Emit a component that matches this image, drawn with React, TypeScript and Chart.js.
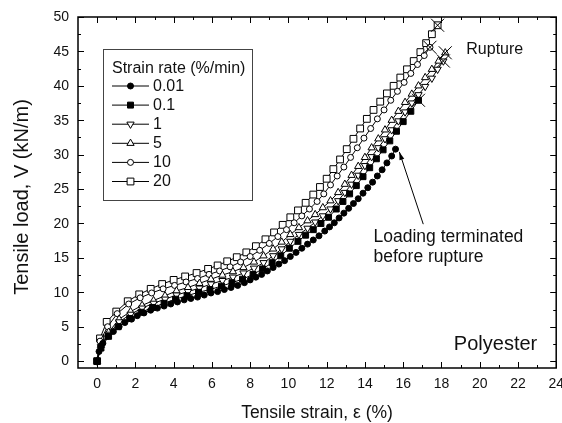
import { useEffect, useRef } from "react";
import { Chart, registerables } from "chart.js";
import { drawPoint } from "chart.js/helpers";

Chart.register(...registerables);

// Tensile strain (%) and tensile load (kN/m) for each strain rate (%/min)
const strain001 = [0, 0.1, 0.3, 0.55, 0.85, 1.15, 1.45, 1.8, 2.1, 2.45, 2.8, 3.15, 3.5, 3.85, 4.2, 4.55, 4.9, 5.25, 5.6, 5.95, 6.3, 6.65, 7.0, 7.35, 7.7, 8.0, 8.3, 8.6, 8.9, 9.2, 9.5, 9.8, 10.1, 10.4, 10.7, 11.0, 11.3, 11.6, 11.9, 12.15, 12.4, 12.65, 12.9, 13.15, 13.4, 13.65, 13.9, 14.15, 14.4, 14.65, 14.9, 15.15, 15.4, 15.6];
const load001 = [0, 1.4, 2.6, 3.6, 4.3, 5.0, 5.6, 6.1, 6.6, 7.0, 7.4, 7.7, 8.0, 8.3, 8.6, 8.9, 9.1, 9.3, 9.6, 9.9, 10.1, 10.4, 10.7, 11.0, 11.4, 11.8, 12.2, 12.6, 13.1, 13.6, 14.1, 14.6, 15.2, 15.8, 16.4, 17.0, 17.6, 18.2, 18.9, 19.5, 20.1, 20.8, 21.5, 22.2, 22.9, 23.6, 24.4, 25.2, 26.0, 26.9, 27.8, 28.8, 29.8, 30.8];

const strain01 = [0, 0.2, 0.6, 1.1, 1.7, 2.3, 2.9, 3.5, 4.1, 4.7, 5.3, 5.9, 6.5, 7.05, 7.6, 8.15, 8.65, 9.15, 9.6, 10.05, 10.5, 10.9, 11.3, 11.7, 12.1, 12.5, 12.85, 13.2, 13.55, 13.9, 14.25, 14.6, 14.95, 15.3, 15.65, 16.0, 16.4, 16.8];
const load01 = [0, 1.9, 3.6, 5.0, 6.2, 7.1, 7.8, 8.4, 9.0, 9.5, 10.0, 10.4, 10.9, 11.4, 11.9, 12.6, 13.4, 14.3, 15.3, 16.4, 17.4, 18.3, 19.1, 20.0, 20.9, 22.1, 23.2, 24.3, 25.5, 26.8, 28.1, 29.4, 30.7, 32.0, 33.4, 34.8, 36.3, 37.9];

const strain1 = [0, 0.2, 0.6, 1.15, 1.75, 2.35, 2.95, 3.55, 4.15, 4.75, 5.35, 5.95, 6.55, 7.1, 7.65, 8.2, 8.7, 9.2, 9.65, 10.1, 10.55, 11.0, 11.4, 11.8, 12.2, 12.6, 12.95, 13.3, 13.65, 14.0, 14.35, 14.7, 15.05, 15.4, 15.75, 16.1, 16.45, 16.8, 17.15, 17.5, 17.8, 18.1];
const load1 = [0, 2.1, 3.9, 5.7, 6.8, 7.7, 8.4, 9.0, 9.6, 10.1, 10.6, 11.2, 11.7, 12.2, 12.8, 13.5, 14.3, 15.3, 16.3, 17.4, 18.4, 19.3, 20.2, 21.1, 22.1, 23.3, 24.5, 25.7, 27.0, 28.4, 29.7, 31.0, 32.3, 33.6, 34.9, 36.2, 37.5, 38.7, 39.9, 41.1, 42.4, 43.6];

const strain5 = [0, 0.2, 0.6, 1.15, 1.75, 2.35, 2.95, 3.55, 4.15, 4.75, 5.35, 5.95, 6.55, 7.1, 7.65, 8.2, 8.7, 9.2, 9.65, 10.1, 10.55, 11.0, 11.4, 11.8, 12.2, 12.6, 12.95, 13.3, 13.65, 14.0, 14.35, 14.7, 15.05, 15.4, 15.75, 16.1, 16.45, 16.8, 17.15, 17.5, 17.85, 18.2];
const load5 = [0, 2.3, 4.2, 6.1, 7.2, 8.1, 8.8, 9.5, 10.2, 10.7, 11.3, 11.9, 12.5, 13.0, 13.6, 14.4, 15.3, 16.3, 17.3, 18.4, 19.4, 20.4, 21.3, 22.3, 23.3, 24.5, 25.7, 27.0, 28.3, 29.6, 31.0, 32.3, 33.6, 35.0, 36.3, 37.6, 38.8, 40.0, 41.2, 42.4, 43.6, 44.8];

const strain10 = [0, 0.15, 0.55, 1.05, 1.65, 2.25, 2.85, 3.45, 4.05, 4.65, 5.25, 5.85, 6.4, 6.95, 7.5, 8.0, 8.5, 9.0, 9.45, 9.9, 10.3, 10.7, 11.1, 11.5, 11.85, 12.2, 12.55, 12.9, 13.25, 13.6, 13.95, 14.3, 14.65, 15.0, 15.35, 15.7, 16.05, 16.4, 16.75, 17.1, 17.4];
const load10 = [0, 2.9, 5.0, 6.9, 8.3, 9.2, 9.9, 10.5, 11.0, 11.5, 12.0, 12.6, 13.1, 13.7, 14.4, 15.2, 16.1, 17.1, 18.1, 19.1, 20.1, 21.1, 22.1, 23.2, 24.3, 25.6, 26.9, 28.2, 29.6, 31.0, 32.4, 33.8, 35.2, 36.5, 37.9, 39.2, 40.5, 41.8, 43.1, 44.4, 45.6];

const strain20 = [0, 0.15, 0.5, 1.0, 1.6, 2.2, 2.8, 3.4, 4.0, 4.6, 5.2, 5.8, 6.3, 6.8, 7.3, 7.8, 8.3, 8.8, 9.25, 9.7, 10.1, 10.5, 10.9, 11.3, 11.65, 12.0, 12.35, 12.7, 13.05, 13.4, 13.75, 14.1, 14.45, 14.8, 15.15, 15.5, 15.85, 16.2, 16.55, 16.9, 17.2, 17.5, 17.8];
const load20 = [0, 3.3, 5.7, 7.2, 8.7, 9.7, 10.5, 11.2, 11.8, 12.3, 12.8, 13.4, 13.9, 14.5, 15.1, 15.8, 16.7, 17.7, 18.7, 19.8, 20.9, 21.9, 23.0, 24.2, 25.3, 26.5, 27.9, 29.3, 30.8, 32.3, 33.8, 35.2, 36.5, 37.7, 38.9, 40.0, 41.2, 42.4, 43.6, 44.9, 46.2, 47.5, 48.8];

const rateLabels = ["0.01", "0.1", "1", "5", "10", "20"];
// which strain rates ended in rupture (0.01 %/min was stopped early)
const ruptured = [false, true, true, true, true, true];

const xTickValues = [0, 2, 4, 6, 8, 10, 12, 14, 16, 18, 20, 22, 24];
const xMinorValues = [1, 3, 5, 7, 9, 11, 13, 15, 17, 19, 21, 23];
const yTickValues = [0, 5, 10, 15, 20, 25, 30, 35, 40, 45, 50];
const yMinorValues = [2.5, 7.5, 12.5, 17.5, 22.5, 27.5, 32.5, 37.5, 42.5, 47.5];

const strains = [strain001, strain01, strain1, strain5, strain10, strain20];
const loads = [load001, load01, load1, load5, load10, load20];

const FONT = "'Liberation Sans', Arial, Helvetica, sans-serif";
const INK = "#111";

// marker look for each strain rate
const markerStyles = [
  { pointStyle: "circle", radius: 3, rotation: 0, fill: "#000" },
  { pointStyle: "rect", radius: 4.2, rotation: 0, fill: "#000" },
  { pointStyle: "triangle", radius: 4.2, rotation: 180, fill: "#fff" },
  { pointStyle: "triangle", radius: 4.2, rotation: 0, fill: "#fff" },
  { pointStyle: "circle", radius: 3, rotation: 0, fill: "#fff" },
  { pointStyle: "rect", radius: 4.8, rotation: 0, fill: "#fff" },
];

// annotation anchors in data units
const ruptureLabelAt = { x: 19.3, y: 45.2 };
const terminatedLabelAt = { x: 14.45, y: 17.95 };
const arrowTail = { x: 17.05, y: 19.9 };
const arrowTip = { x: 15.8, y: 30.4 };
const materialLabelAt = { x: 18.65, y: 2.35 };

function line(ctx: CanvasRenderingContext2D, x1: number, y1: number, x2: number, y2: number) {
  ctx.beginPath();
  ctx.moveTo(x1, y1);
  ctx.lineTo(x2, y2);
  ctx.stroke();
}

const decorations = {
  id: "decorations",
  afterDatasetsDraw(chart: any) {
    const { ctx, scales } = chart;
    const xs = scales.x;
    const ys = scales.y;
    ctx.save();
    ctx.strokeStyle = "#000";
    ctx.lineWidth = 1;
    // rupture crosses at the last reading of each ruptured specimen
    strains.forEach((s, i) => {
      if (!ruptured[i]) return;
      const px = xs.getPixelForValue(s[s.length - 1]);
      const py = ys.getPixelForValue(loads[i][loads[i].length - 1]);
      const d = 6.5;
      line(ctx, px - d, py - d, px + d, py + d);
      line(ctx, px - d, py + d, px + d, py - d);
    });
    ctx.restore();
  },
  afterDraw(chart: any) {
    const { ctx, chartArea: a, scales } = chart;
    const xs = scales.x;
    const ys = scales.y;
    ctx.save();
    ctx.strokeStyle = "#000";
    ctx.lineWidth = 1;

    // inward ticks on all four sides
    const xt = (vals: number[], len: number) =>
      vals.forEach((v) => {
        const px = Math.round(xs.getPixelForValue(v)) + 0.5;
        line(ctx, px, a.bottom, px, a.bottom - len);
        line(ctx, px, a.top, px, a.top + len);
      });
    const yt = (vals: number[], len: number) =>
      vals.forEach((v) => {
        const py = Math.round(ys.getPixelForValue(v)) + 0.5;
        line(ctx, a.left, py, a.left + len, py);
        line(ctx, a.right, py, a.right - len, py);
      });
    xt(xTickValues, 6);
    xt(xMinorValues, 3);
    yt(yTickValues, 6);
    yt(yMinorValues, 3);

    ctx.lineWidth = 1.5;
    ctx.strokeRect(a.left, a.top, a.right - a.left, a.bottom - a.top);

    // tick labels
    ctx.fillStyle = INK;
    ctx.font = `14px ${FONT}`;
    ctx.textBaseline = "middle";
    ctx.textAlign = "center";
    xTickValues.forEach((v) => ctx.fillText(String(v), xs.getPixelForValue(v), a.bottom + 16));
    ctx.textAlign = "right";
    yTickValues.forEach((v) => ctx.fillText(String(v), a.left - 9, ys.getPixelForValue(v) + 0.5));

    // legend box
    const lx = 103.5, ly = 49.5, lw = 149, lh = 151;
    ctx.fillStyle = "#fff";
    ctx.fillRect(lx, ly, lw, lh);
    ctx.lineWidth = 1;
    ctx.strokeStyle = "#444";
    ctx.strokeRect(lx, ly, lw, lh);
    ctx.fillStyle = INK;
    ctx.textAlign = "left";
    ctx.font = `16px ${FONT}`;
    ctx.fillText("Strain rate (%/min)", 112, 68.5);
    rateLabels.forEach((lab, i) => {
      const cy = 86 + i * 19.1;
      const st = markerStyles[i];
      ctx.strokeStyle = "#000";
      ctx.lineWidth = 1;
      line(ctx, 112, cy, 149, cy);
      ctx.fillStyle = st.fill;
      drawPoint(ctx, { pointStyle: st.pointStyle, radius: st.radius, rotation: st.rotation, borderWidth: 1 } as any, 130.5, cy);
      ctx.fillStyle = INK;
      ctx.fillText(lab, 153, cy + 0.5);
    });

    // annotations
    ctx.fillStyle = INK;
    ctx.font = `16px ${FONT}`;
    ctx.fillText("Rupture", xs.getPixelForValue(ruptureLabelAt.x), ys.getPixelForValue(ruptureLabelAt.y));
    const tx = xs.getPixelForValue(terminatedLabelAt.x);
    const ty = ys.getPixelForValue(terminatedLabelAt.y);
    ctx.font = `17.5px ${FONT}`;
    ctx.fillText("Loading terminated", tx, ty);
    ctx.fillText("before rupture", tx, ty + 20);

    // arrow to the end of the terminated test
    const ax1 = xs.getPixelForValue(arrowTail.x), ay1 = ys.getPixelForValue(arrowTail.y);
    const ax2 = xs.getPixelForValue(arrowTip.x), ay2 = ys.getPixelForValue(arrowTip.y);
    ctx.strokeStyle = "#000";
    ctx.lineWidth = 1;
    line(ctx, ax1, ay1, ax2, ay2);
    const ang = Math.atan2(ay2 - ay1, ax2 - ax1);
    const hl = 8, hw = 2.5;
    ctx.beginPath();
    ctx.moveTo(ax2, ay2);
    ctx.lineTo(ax2 - hl * Math.cos(ang) + hw * Math.sin(ang), ay2 - hl * Math.sin(ang) - hw * Math.cos(ang));
    ctx.lineTo(ax2 - hl * Math.cos(ang) - hw * Math.sin(ang), ay2 - hl * Math.sin(ang) + hw * Math.cos(ang));
    ctx.closePath();
    ctx.fillStyle = "#000";
    ctx.fill();

    ctx.fillStyle = INK;
    ctx.font = `20px ${FONT}`;
    ctx.fillText("Polyester", xs.getPixelForValue(materialLabelAt.x), ys.getPixelForValue(materialLabelAt.y));

    // axis titles
    ctx.font = `17.5px ${FONT}`;
    ctx.textAlign = "center";
    ctx.fillText("Tensile strain, \u03b5 (%)", 317, 413);
    ctx.translate(22, 197);
    ctx.rotate(-Math.PI / 2);
    ctx.font = `20px ${FONT}`;
    ctx.fillText("Tensile load, V (kN/m)", 0, 0);
    ctx.restore();
  },
};

export default function App() {
  const canvasRef = useRef<HTMLCanvasElement | null>(null);

  useEffect(() => {
    const canvas = canvasRef.current;
    if (!canvas) return;
    const datasets = strains.map((s, i) => {
      const st = markerStyles[i];
      return {
        label: rateLabels[i],
        data: s.map((x, j) => ({ x, y: loads[i][j] })),
        showLine: true,
        borderColor: "#000",
        borderWidth: 1,
        tension: 0,
        pointStyle: st.pointStyle,
        pointRotation: st.rotation,
        pointRadius: st.radius,
        pointBackgroundColor: st.fill,
        pointBorderColor: "#000",
        pointBorderWidth: 1,
      };
    });
    const chart = new Chart(canvas, {
      type: "scatter",
      data: { datasets } as any,
      options: {
        responsive: false,
        animation: false,
        devicePixelRatio: 1,
        layout: { padding: { top: 17, right: 5, left: 0, bottom: 0 } },
        plugins: { legend: { display: false }, tooltip: { enabled: false } },
        events: [],
        scales: {
          x: {
            type: "linear",
            min: -1,
            max: 24,
            grid: { display: false, drawTicks: false },
            border: { display: false },
            ticks: { display: false },
            afterFit: (s: any) => {
              s.height = 55;
            },
          },
          y: {
            type: "linear",
            min: -1,
            max: 50,
            grid: { display: false, drawTicks: false },
            border: { display: false },
            ticks: { display: false },
            afterFit: (s: any) => {
              s.width = 78;
            },
          },
        },
      } as any,
      plugins: [decorations],
    });
    return () => chart.destroy();
  }, []);

  return (
    <div style={{ position: "fixed", left: 0, top: 0, width: 562, height: 423, background: "#fff" }}>
      <canvas ref={canvasRef} width={562} height={423} style={{ display: "block" }} />
    </div>
  );
}
